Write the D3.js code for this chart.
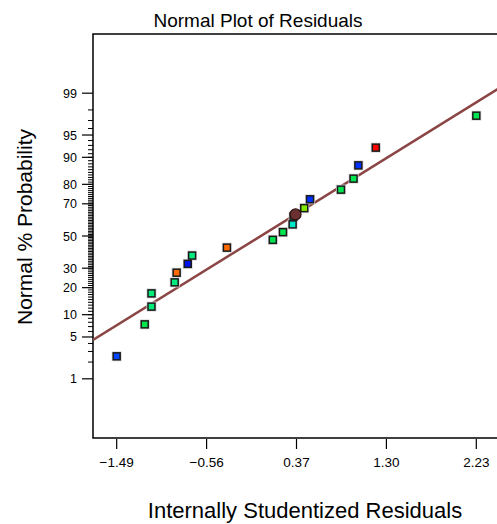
<!DOCTYPE html>
<html>
<head>
<meta charset="utf-8">
<script src="https://cdn.jsdelivr.net/npm/d3@7"></script>
<style>
  body { margin: 0; background: #fff; }
  text { font-family: "Liberation Sans", Arial, sans-serif; fill: #000; }
</style>
</head>
<body>
<div id="chart"></div>
<script>
// residuals (sorted) and their normal % probability
var residuals = [-1.49, -1.20, -1.13, -1.13, -0.89, -0.87, -0.755, -0.71, -0.35, 0.125,
                 0.23, 0.33, 0.34, 0.45, 0.51, 0.83, 0.96, 1.01, 1.19, 2.23];
var probs = [2.5, 7.5, 12.5, 17.5, 22.5, 27.5, 32.5, 37.5, 42.5, 47.5,
             52.5, 57.5, 62.5, 67.5, 72.5, 77.5, 82.5, 87.5, 92.5, 97.5];
var pointColors = ["#0046ff", "#00e64a", "#00ea7a", "#00ea7a", "#00ea80", "#ff6a00", "#0010ee", "#00ea80", "#ff6a00", "#00e650",
                   "#00e650", "#00e6c8", "#00e6c8", "#80ea00", "#0030ff", "#00e650", "#00e650", "#0030ff", "#ff0000", "#00e650"];

var xTicks = [-1.49, -0.56, 0.37, 1.30, 2.23];
var yTicks = [1, 5, 10, 20, 30, 50, 70, 80, 90, 95, 99];
var yMinor = [2, 3, 4].concat(d3.range(6, 95), [96, 97, 98]);

// fitted normal line z = slope * r + intercept, and the marked point
var fitSlope = 0.976, fitIntercept = 0;
var markedResidual = 0.36;

var svgWidth = 497, svgHeight = 524;
var plot = {left: 93, top: 34, right: 500, bottom: 438};

// inverse normal cdf (Acklam)
function probit(p) {
  var a = [-39.69683028665376, 220.9460984245205, -275.9285104469687, 138.3577518672690, -30.66479806614716, 2.506628277459239];
  var b = [-54.47609879822406, 161.5858368580409, -155.6989798598866, 66.80131188771972, -13.28068155288572];
  var c = [-0.007784894002430293, -0.3223964580411365, -2.400758277161838, -2.549732539343734, 4.374664141464968, 2.938163982698783];
  var d = [0.007784695709041462, 0.3224671290700398, 2.445134137142996, 3.754408661907416];
  var pl = 0.02425, q, r;
  if (p < pl) {
    q = Math.sqrt(-2 * Math.log(p));
    return (((((c[0]*q+c[1])*q+c[2])*q+c[3])*q+c[4])*q+c[5]) / ((((d[0]*q+d[1])*q+d[2])*q+d[3])*q+1);
  } else if (p <= 1 - pl) {
    q = p - 0.5; r = q * q;
    return (((((a[0]*r+a[1])*r+a[2])*r+a[3])*r+a[4])*r+a[5])*q / (((((b[0]*r+b[1])*r+b[2])*r+b[3])*r+b[4])*r+1);
  } else {
    q = Math.sqrt(-2 * Math.log(1 - p));
    return -(((((c[0]*q+c[1])*q+c[2])*q+c[3])*q+c[4])*q+c[5]) / ((((d[0]*q+d[1])*q+d[2])*q+d[3])*q+1);
  }
}

var svg = d3.select("#chart").append("svg")
  .attr("width", svgWidth)
  .attr("height", svgHeight);

var xScale = d3.scaleLinear()
  .domain([-1.735, 2.475])
  .range([plot.left, plot.right]);

var zScale = d3.scaleLinear()
  .domain([probit(0.0005), probit(0.9995)])
  .range([plot.bottom, plot.top]);
function yPos(pct) { return zScale(probit(pct / 100)); }

svg.append("defs").append("clipPath").attr("id", "clip")
  .append("rect")
  .attr("x", plot.left).attr("y", plot.top)
  .attr("width", plot.right - plot.left).attr("height", plot.bottom - plot.top);

// frame (right edge runs off the picture)
svg.append("path")
  .attr("d", `M${plot.right},${plot.top}H${plot.left}V${plot.bottom}H${plot.right}`)
  .attr("fill", "none")
  .attr("stroke", "#000")
  .attr("stroke-width", 1.5);

// x axis
var xAxis = svg.append("g").attr("transform", `translate(0,${plot.bottom})`);
xAxis.selectAll("line").data(xTicks).enter().append("line")
  .attr("x1", d => xScale(d)).attr("x2", d => xScale(d))
  .attr("y1", 1).attr("y2", 11)
  .attr("stroke", "#000").attr("stroke-width", 1.2);
xAxis.selectAll("text").data(xTicks).enter().append("text")
  .attr("x", d => xScale(d)).attr("y", 29)
  .attr("text-anchor", "middle")
  .style("font-size", "13.5px")
  .text(d => d3.format(".2f")(d));

// y axis
var yAxis = svg.append("g");
yAxis.selectAll("line.minor").data(yMinor).enter().append("line")
  .attr("class", "minor")
  .attr("x1", plot.left - 5).attr("x2", plot.left)
  .attr("y1", d => yPos(d)).attr("y2", d => yPos(d))
  .attr("stroke", "#000").attr("stroke-width", 1);
yAxis.selectAll("line.major").data(yTicks).enter().append("line")
  .attr("class", "major")
  .attr("x1", plot.left - 11).attr("x2", plot.left)
  .attr("y1", d => yPos(d)).attr("y2", d => yPos(d))
  .attr("stroke", "#000").attr("stroke-width", 1.2);
yAxis.selectAll("text").data(yTicks).enter().append("text")
  .attr("x", plot.left - 16).attr("y", d => yPos(d) + 4.5)
  .attr("text-anchor", "end")
  .style("font-size", "12.5px")
  .text(d => d);

// fitted line
var lineData = xScale.domain().map(r => [r, fitSlope * r + fitIntercept]);
svg.append("path")
  .datum(lineData)
  .attr("clip-path", "url(#clip)")
  .attr("fill", "none")
  .attr("stroke", "#8b4545")
  .attr("stroke-width", 2.5)
  .attr("d", d3.line().x(d => xScale(d[0])).y(d => zScale(d[1])));

// points
var pts = residuals.map((r, i) => ({r: r, p: probs[i], c: pointColors[i]}));
var g = svg.append("g");
g.selectAll("rect.halo").data(pts).enter().append("rect")
  .attr("class", "halo")
  .attr("x", d => xScale(d.r) - 5).attr("y", d => yPos(d.p) - 5)
  .attr("width", 10).attr("height", 10)
  .attr("fill", "#d8d8d8");
g.selectAll("rect.pt").data(pts).enter().append("rect")
  .attr("class", "pt")
  .attr("x", d => xScale(d.r) - 3.5).attr("y", d => yPos(d.p) - 3.5)
  .attr("width", 7).attr("height", 7)
  .attr("fill", d => d.c)
  .attr("stroke", "#1a1a1a")
  .attr("stroke-width", 1.5);

// marked point on the line
svg.append("circle")
  .attr("cx", xScale(markedResidual))
  .attr("cy", zScale(fitSlope * markedResidual + fitIntercept))
  .attr("r", 5.5)
  .attr("fill", "#6b3030")
  .attr("stroke", "#2a1010")
  .attr("stroke-width", 1.2);
// redraw the cyan point sitting over the circle
g.selectAll("rect.pt").filter((d, i) => i === 12).raise();

// titles
svg.append("text")
  .attr("x", 258).attr("y", 27)
  .attr("text-anchor", "middle")
  .style("font-size", "19px")
  .text("Normal Plot of Residuals");

svg.append("text")
  .attr("x", 305).attr("y", 518)
  .attr("text-anchor", "middle")
  .style("font-size", "22px")
  .text("Internally Studentized Residuals");

svg.append("text")
  .attr("transform", "translate(32,227) rotate(-90)")
  .attr("text-anchor", "middle")
  .style("font-size", "21px")
  .text("Normal % Probability");
</script>
</body>
</html>
